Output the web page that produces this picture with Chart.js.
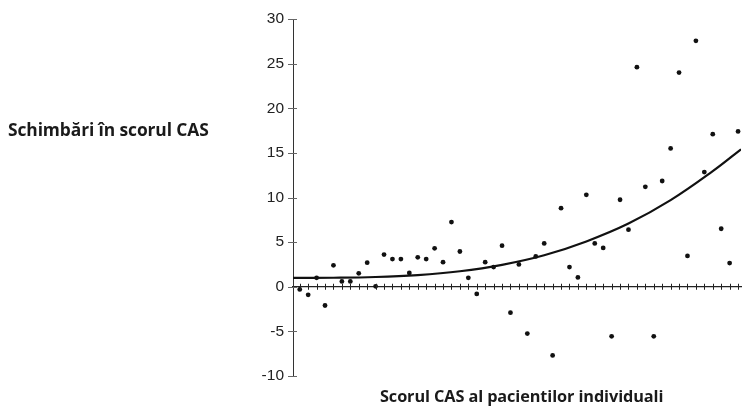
<!DOCTYPE html>
<html>
<head>
<meta charset="utf-8">
<script src="https://cdn.jsdelivr.net/npm/chart.js@4.4.1/dist/chart.umd.min.js"></script>
<style>
  html, body { margin: 0; padding: 0; background: #fff; }
  #wrap { position: relative; width: 745px; height: 406px; overflow: hidden; }
  canvas { position: absolute; left: 0; top: 0; }
  .ttl { position: absolute; font-family: "Open Sans", "Noto Sans", sans-serif; font-weight: 700; color: #1a1a1a; white-space: nowrap; line-height: 1; }
  #ytitle { left: 8px; top: 121px; font-size: 17.4px; letter-spacing: -0.1px; }
  #xtitle { left: 380px; top: 388px; font-size: 16.3px; letter-spacing: -0.1px; }
</style>
</head>
<body>
<div id="wrap">
  <canvas id="c" width="745" height="406"></canvas>
  <div class="ttl" id="ytitle">Schimbări în scorul CAS</div>
  <div class="ttl" id="xtitle">Scorul CAS al pacientilor individuali</div>
</div>
<script>
// Patients (category index along the x axis)
const patients = [1,2,3,4,5,6,7,8,9,10,11,12,13,14,15,16,17,18,19,20,21,22,23,24,25,26,27,28,29,30,31,32,33,34,35,36,37,38,39,40,41,42,43,44,45,46,47,48,49,50,51,52,53];
// Change in CAS score per patient
const casChange = [-0.3,-0.9,1.0,-2.1,2.4,0.6,0.6,1.5,2.7,0.05,3.6,3.1,3.1,1.55,3.3,3.1,4.3,2.75,7.25,3.95,1.0,-0.8,2.75,2.2,4.6,-2.9,2.5,-5.25,3.4,4.85,-7.7,8.8,2.2,1.05,10.3,4.85,4.35,-5.55,9.75,6.4,24.6,11.2,-5.55,11.85,15.5,24.0,3.45,27.55,12.85,17.1,6.5,2.65,17.4];
// Trend curve at sample positions
const trendX = [0.2,5,10,15,20,25,30,35,40,45,50,53.35];
const trendY = [1.0,1.01,1.09,1.31,1.74,2.46,3.53,5.08,7.08,9.7,12.95,15.4];
const yTicks = [-10,-5,0,5,10,15,20,25,30];

const tickMarks = {
  id: 'tickMarks',
  afterDatasetsDraw(chart) {
    const ctx = chart.ctx, xs = chart.scales.x, ys = chart.scales.y;
    const y0 = ys.getPixelForValue(0);
    ctx.save();
    ctx.lineWidth = 1;
    ctx.strokeStyle = '#222';
    patients.forEach(p => {
      const px = Math.round(xs.getPixelForValue(p)) + 0.5;
      ctx.beginPath(); ctx.moveTo(px, y0 - 3); ctx.lineTo(px, y0 + 3); ctx.stroke();
    });
    ctx.strokeStyle = '#666';
    const ax = xs.left;
    yTicks.forEach(v => {
      const py = Math.round(ys.getPixelForValue(v)) + 0.5;
      ctx.beginPath(); ctx.moveTo(ax - 5, py); ctx.lineTo(ax + 4, py); ctx.stroke();
    });
    ctx.restore();
  }
};

new Chart(document.getElementById('c'), {
  type: 'scatter',
  data: {
    datasets: [
      {
        type: 'line',
        data: trendX.map((x, i) => ({x, y: trendY[i]})),
        borderColor: '#111',
        borderWidth: 2.2,
        pointRadius: 0,
        tension: 0.4,
        fill: false
      },
      {
        data: patients.map((p, i) => ({x: p, y: casChange[i]})),
        backgroundColor: '#111',
        borderColor: '#111',
        pointRadius: 2.4,
        pointBorderWidth: 0
      }
    ]
  },
  options: {
    responsive: false,
    animation: false,
    events: [],
    layout: { padding: { left: 0, right: 0, top: 19, bottom: 30 } },
    plugins: { legend: { display: false }, tooltip: { enabled: false } },
    scales: {
      x: {
        type: 'linear',
        min: 0.2,
        max: 53.35,
        position: { y: 0 },
        grid: { display: false, drawTicks: false },
        border: { display: true, color: '#222', width: 1.3 },
        ticks: { display: false }
      },
      y: {
        type: 'linear',
        min: -10,
        max: 30,
        position: 'left',
        afterFit(s) { s.width = 293; },
        afterBuildTicks(s) { s.ticks = yTicks.map(v => ({value: v})); },
        grid: { display: false, drawTicks: false },
        border: { display: true, color: '#333', width: 1 },
        ticks: {
          padding: 9,
          color: '#222',
          font: { family: '"Liberation Sans", Arial, sans-serif', size: 15.5 }
        }
      }
    }
  },
  plugins: [tickMarks]
});
</script>
</body>
</html>
